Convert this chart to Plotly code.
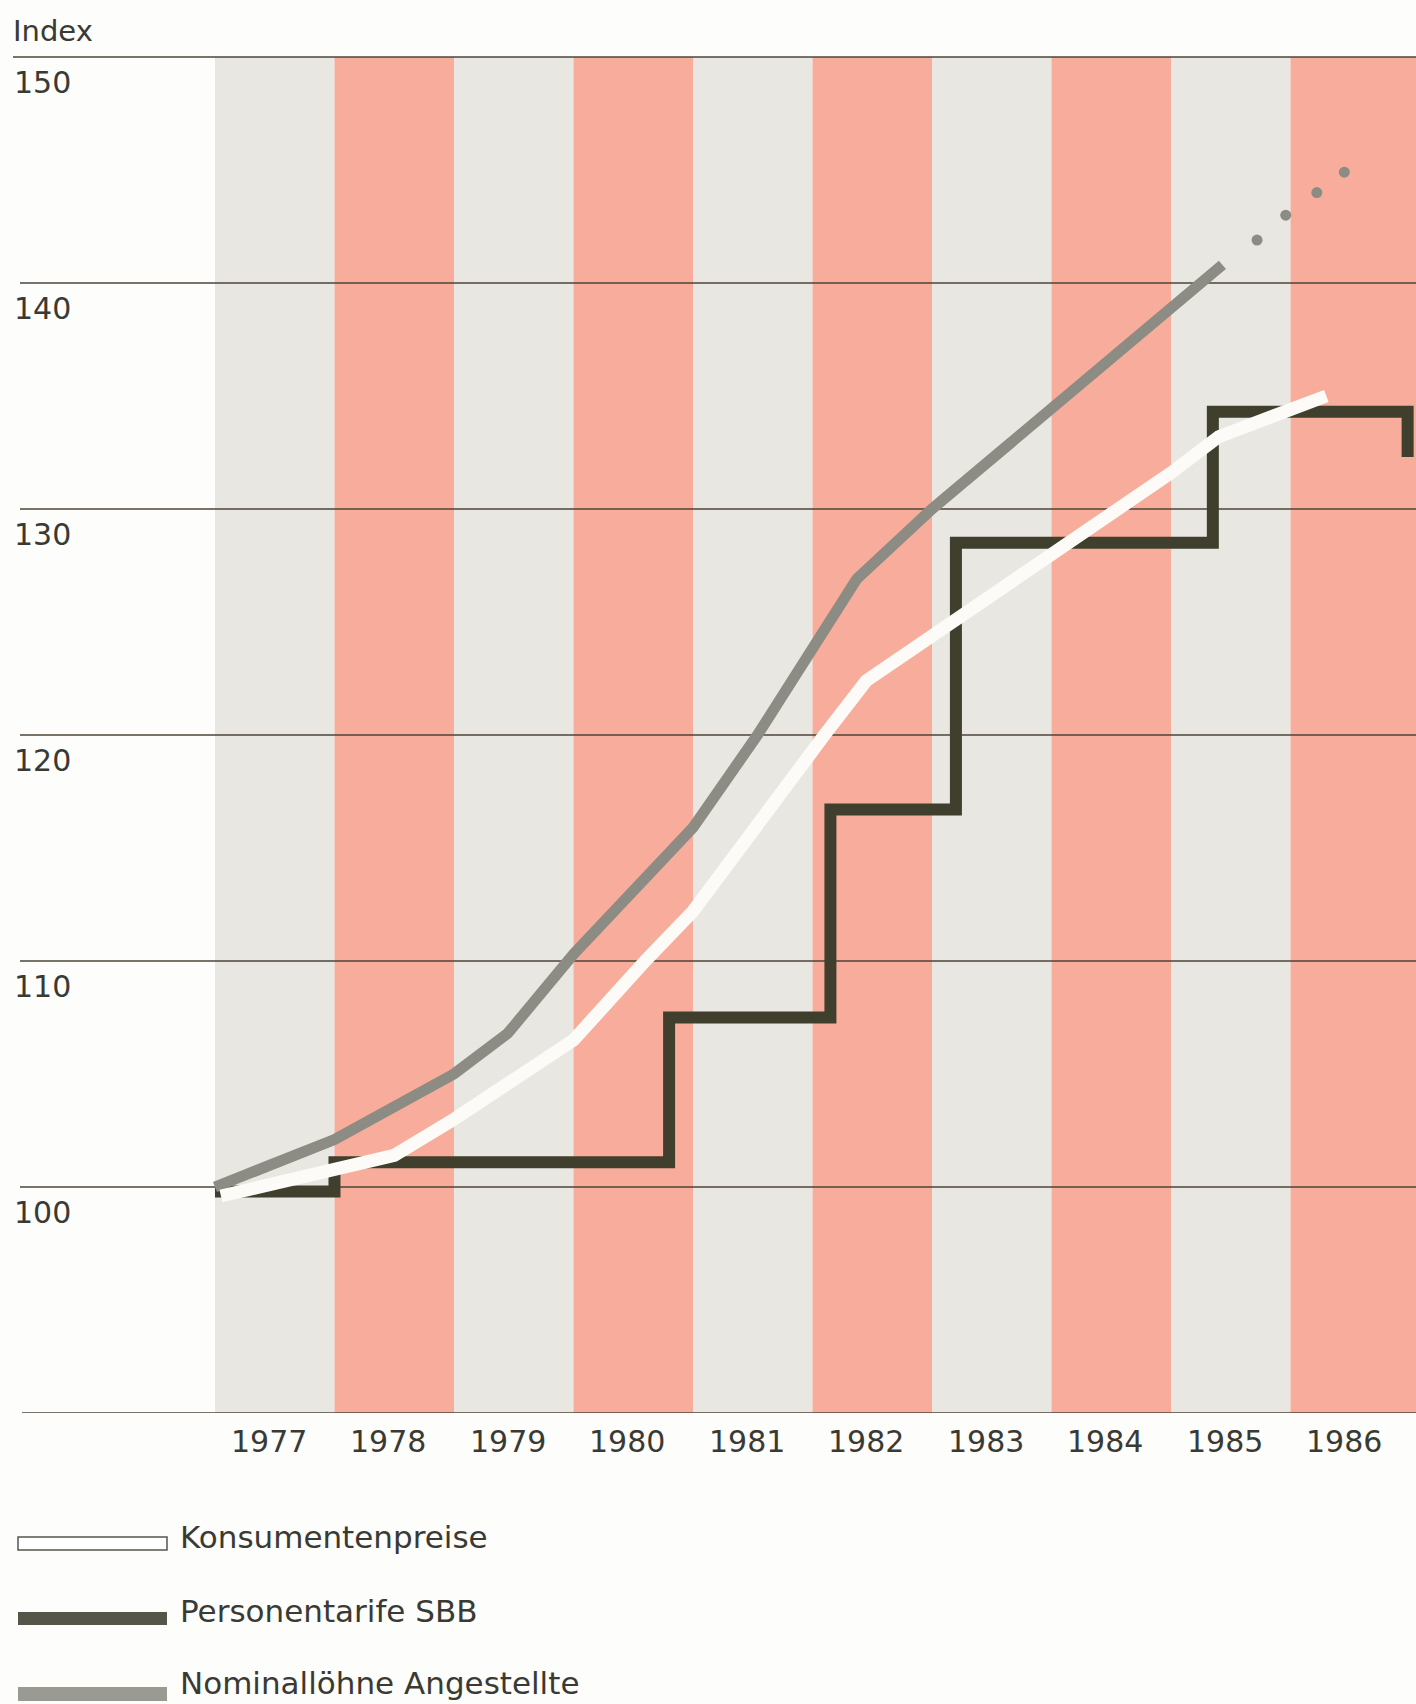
import plotly.graph_objects as go

# ---- data ----
years = [1977, 1978, 1979, 1980, 1981, 1982, 1983, 1984, 1985, 1986]
y_ticks = [100, 110, 120, 130, 140, 150]

konsum_x = [1977.05, 1978.0, 1978.5, 1979.0, 1980.0, 1980.6, 1981.0, 1982.1, 1982.45, 1983.2, 1984.57, 1985.0, 1985.4, 1986.3]
konsum_y = [99.6, 100.8, 101.4, 103.0, 106.5, 110.0, 112.2, 120.0, 122.4, 125.1, 130.0, 131.6, 133.2, 135.0]

sbb_x = [1977.0, 1978.0, 1980.8, 1982.15, 1983.2, 1985.35, 1986.98]
sbb_y = [99.8, 101.1, 107.5, 116.7, 128.5, 134.3, 132.3]

lohn_x = [1977.0, 1978.0, 1979.0, 1979.45, 1980.0, 1981.0, 1981.54, 1982.37, 1983.0, 1985.43]
lohn_y = [100.0, 102.1, 105.0, 106.8, 110.3, 115.9, 120.0, 126.9, 130.0, 140.8]
lohn_proj_x = [1985.72, 1985.96, 1986.22, 1986.45]
lohn_proj_y = [141.9, 143.0, 144.0, 144.9]

legend_labels = ["Konsumentenpreise", "Personentarife SBB", "Nominallöhne Angestellte"]

# ---- style ----
W, H = 1416, 1704
PLOT_H = 1413
X_RANGE = [1975.201, 1987.05]
Y_RANGE = [90, 152.52]
GREY = "#e9e7e2"
PINK = "#f8ac9b"
GRID = "#4e4538"
TXT = "#3a3a34"
C_LOHN = "#8c8c84"
C_SBB = "#403f2d"
C_KONS = "#fcfbf7"
FONT = "DejaVu Sans, Liberation Sans, sans-serif"


def px_x(p):
    return p / W


def px_y(p):
    return (PLOT_H - p) / PLOT_H


def px_t(p):
    # pixel column -> year coordinate (stripe 1977 starts at px 215, 119.5 px per year)
    return 1977 + (p - 215) / 119.5


fig = go.Figure()

fig.add_trace(go.Scatter(x=sbb_x, y=sbb_y, mode="lines", line_shape="hv",
                         line=dict(color=C_SBB, width=12), name=legend_labels[1],
                         showlegend=False, hoverinfo="skip"))
fig.add_trace(go.Scatter(x=lohn_x, y=lohn_y, mode="lines",
                         line=dict(color=C_LOHN, width=11), name=legend_labels[2],
                         showlegend=False, hoverinfo="skip"))
fig.add_trace(go.Scatter(x=lohn_proj_x, y=lohn_proj_y, mode="markers",
                         marker=dict(color=C_LOHN, size=11, line=dict(width=0)),
                         showlegend=False, hoverinfo="skip"))
fig.add_trace(go.Scatter(x=konsum_x, y=konsum_y, mode="lines",
                         line=dict(color=C_KONS, width=13), name=legend_labels[0],
                         showlegend=False, hoverinfo="skip"))

shapes = []
# stripes
for i, yr in enumerate(years):
    x1 = yr + 1 if i < len(years) - 1 else X_RANGE[1]
    shapes.append(dict(type="rect", xref="x", yref="y", x0=yr, x1=x1, y0=90, y1=150,
                       fillcolor=GREY if i % 2 == 0 else PINK, line=dict(width=0),
                       layer="below"))
# gridlines
for v in y_ticks:
    shapes.append(dict(type="line", xref="x", yref="y",
                       x0=px_t(13 if v == 150 else 20), x1=X_RANGE[1], y0=v, y1=v,
                       line=dict(color=GRID, width=1.6), layer="below"))
shapes.append(dict(type="line", xref="x", yref="y", x0=px_t(22), x1=X_RANGE[1], y0=90, y1=90,
                   line=dict(color=GRID, width=1.6), layer="below"))

# legend symbols
shapes.append(dict(type="rect", xref="paper", yref="paper", x0=px_x(18), x1=px_x(167),
                   y0=px_y(1550), y1=px_y(1537), fillcolor="#ffffff",
                   line=dict(color="#55554c", width=1.5)))
shapes.append(dict(type="rect", xref="paper", yref="paper", x0=px_x(18), x1=px_x(167),
                   y0=px_y(1625), y1=px_y(1612), fillcolor="#56554a",
                   line=dict(width=0)))
shapes.append(dict(type="rect", xref="paper", yref="paper", x0=px_x(18), x1=px_x(167),
                   y0=px_y(1701), y1=px_y(1687), fillcolor="#9a9a92",
                   line=dict(width=0)))

annotations = []
annotations.append(dict(text="Index", xref="paper", yref="paper", x=px_x(11), y=px_y(31),
                        xanchor="left", yanchor="middle", showarrow=False,
                        font=dict(family=FONT, size=29, color=TXT)))
for v in y_ticks:
    annotations.append(dict(text=str(v), xref="paper", yref="y", x=px_x(12), y=v,
                            yshift=-26, xanchor="left", yanchor="middle", showarrow=False,
                            font=dict(family=FONT, size=30, color=TXT)))
for yr in years:
    annotations.append(dict(text=str(yr), xref="x", yref="paper", x=yr + 0.5, y=0,
                            xshift=-6, yshift=-28, xanchor="center", yanchor="middle",
                            showarrow=False, font=dict(family=FONT, size=30, color=TXT)))
leg_rows = [1537, 1611, 1683]
for lab, row in zip(legend_labels, leg_rows):
    annotations.append(dict(text=lab, xref="paper", yref="paper", x=px_x(178), y=px_y(row),
                            xanchor="left", yanchor="middle", showarrow=False,
                            font=dict(family=FONT, size=31, color=TXT)))

fig.update_layout(
    width=W, height=H,
    margin=dict(l=0, r=0, t=0, b=H - PLOT_H, pad=0),
    paper_bgcolor="#fdfdfb", plot_bgcolor="rgba(0,0,0,0)",
    xaxis=dict(range=X_RANGE, visible=False, fixedrange=True),
    yaxis=dict(range=Y_RANGE, visible=False, fixedrange=True),
    shapes=shapes, annotations=annotations, showlegend=False,
)

fig.write_html("out.html", config={"displayModeBar": False},
               post_script="document.body.style.margin='0';document.body.style.overflow='hidden';")
